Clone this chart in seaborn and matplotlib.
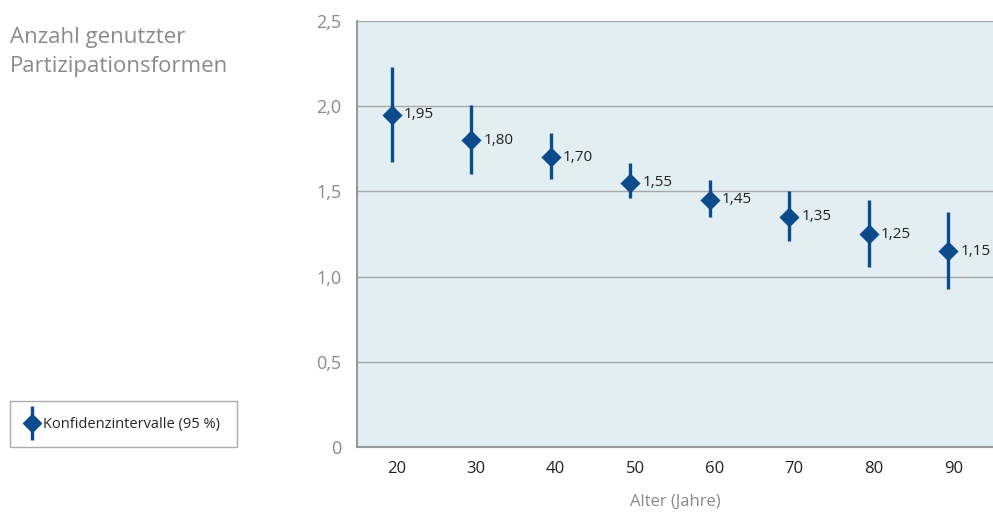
import numpy as np
import pandas as pd
import seaborn as sns
import matplotlib.pyplot as plt
from matplotlib.lines import Line2D
from matplotlib.ticker import FixedLocator, FuncFormatter

# 데이터
alter = ['20', '30', '40', '50', '60', '70', '80', '90']
mittelwert = [1.95, 1.80, 1.70, 1.55, 1.45, 1.35, 1.25, 1.15]
ki_unten = [1.67, 1.60, 1.57, 1.46, 1.35, 1.21, 1.055, 0.93]
ki_oben = [2.23, 2.005, 1.84, 1.665, 1.565, 1.50, 1.45, 1.38]
wert_labels = ['1,95', '1,80', '1,70', '1,55', '1,45', '1,35', '1,25', '1,15']

df = pd.DataFrame({'alter': alter, 'wert': mittelwert,
                   'unten': ki_unten, 'oben': ki_oben})
# 마커는 눈금 중앙에서 약간 왼쪽
df['pos'] = np.arange(len(df)) - 0.06

blau = '#0b4a8b'
grau = '#8a8a8a'

sns.set_theme(style='white')
plt.rcParams['font.family'] = ['Open Sans', 'DejaVu Sans']

fig = plt.figure(figsize=(9.93, 5.13), dpi=100)
ax = fig.add_axes([0.3595, 0.1287, 0.6405, 0.8303])
ax.set_facecolor('#e3eef3')

# 신뢰구간 (세로선)
ax.vlines(df['pos'], df['unten'], df['oben'], color=blau, linewidth=2.4, zorder=3)

# 평균값 (다이아몬드)
sns.scatterplot(data=df, x='pos', y='wert', marker='D', s=105,
                color=blau, edgecolor=blau, linewidth=0, zorder=4, ax=ax)

for p, w, lab in zip(df['pos'], df['wert'], wert_labels):
    ax.text(p + 0.15, w, lab, fontsize=11, color='#222222',
            va='center', ha='left', zorder=5)

ax.set_xlim(-0.5, len(df) - 0.5)
ax.set_ylim(0, 2.5)
ax.set_xticks(np.arange(len(df)))
ax.set_xticklabels(alter)

# y축
ax.yaxis.set_major_locator(FixedLocator([0, 0.5, 1.0, 1.5, 2.0, 2.5]))
ax.yaxis.set_minor_locator(FixedLocator([0.25, 0.75, 1.25, 1.75, 2.25]))
ax.yaxis.set_major_formatter(FuncFormatter(
    lambda v, p: '0' if v == 0 else f'{v:.1f}'.replace('.', ',')))
ax.tick_params(axis='y', which='both', direction='out', length=6,
               width=1, color='#999999', labelsize=13, labelcolor=grau, pad=5)
ax.grid(axis='y', color='#a8a8a8', linewidth=1)
ax.set_axisbelow(True)

# x축
ax.xaxis.set_minor_locator(FixedLocator(np.arange(-0.5, len(df), 1.0)))
ax.tick_params(axis='x', which='major', length=0, labelsize=12,
               labelcolor='#222222', pad=10)
ax.tick_params(axis='x', which='minor', direction='in', length=8,
               width=1.2, color='#999999')
ax.set_xlabel('Alter (Jahre)', fontsize=12, color=grau, labelpad=12)
ax.set_ylabel('')

for s in ['top', 'right']:
    ax.spines[s].set_visible(False)
for s in ['left', 'bottom']:
    ax.spines[s].set_color('#999999')
    ax.spines[s].set_linewidth(1.5)

# 제목
fig.text(0.01, 0.948, 'Anzahl genutzter\nPartizipationsformen', fontsize=16,
         color=grau, va='top', ha='left', linespacing=1.55)

# 범례
h_line = Line2D([], [], color=blau, marker='|', linestyle='none',
                markersize=24, markeredgewidth=2.4)
h_dia = Line2D([], [], color=blau, marker='D', linestyle='none', markersize=9)
leg = fig.legend([(h_line, h_dia)], ['Konfidenzintervalle (95 %)'],
                 loc='lower left', bbox_to_anchor=(0.01, 0.1287, 0.229, 0.0955),
                 mode='expand', fontsize=10.5, frameon=True, fancybox=False,
                 handlelength=0.9, handletextpad=0.35, borderpad=1.05,
                 borderaxespad=0)
leg.get_frame().set_edgecolor('#999999')
leg.get_frame().set_linewidth(1)

fig.savefig('out.png', dpi=100)
